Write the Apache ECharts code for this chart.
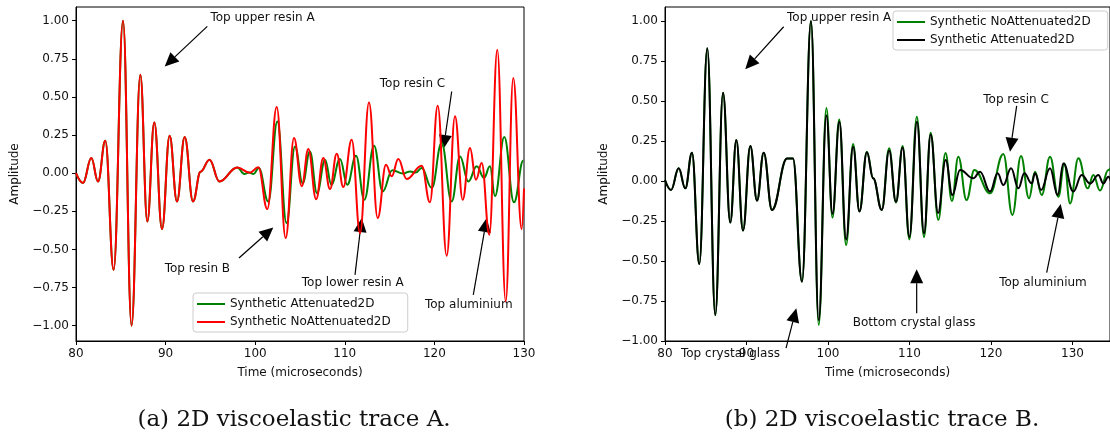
<!DOCTYPE html>
<html>
<head>
<meta charset="utf-8">
<script src="https://cdn.jsdelivr.net/npm/echarts@6/dist/echarts.min.js"></script>
<style>
  html, body { margin: 0; padding: 0; background: #fff; }
  #wrap { position: relative; width: 1110px; height: 437px; }
  #chartA { position: absolute; left: 0; top: 0; width: 555px; height: 437px; }
  #chartB { position: absolute; left: 555px; top: 0; width: 555px; height: 437px; }
</style>
</head>
<body>
<div id="wrap"><div id="chartA"></div><div id="chartB"></div></div>
<script>
// tick labels
var xTicks = [80, 90, 100, 110, 120, 130];
var yTicks = [-1, -0.75, -0.5, -0.25, 0, 0.25, 0.5, 0.75, 1];

// (a) trace A, NoAttenuated (red)
var timeA_no = [80, 80.78, 81.71, 82.46, 83.27, 84.2, 85.25, 86.2, 87.18, 87.96, 88.74, 89.6, 90.45, 91.27, 92.13, 93.06, 93.9, 94.9, 96.0, 98.0, 99.4, 100.35, 101.35, 102.4, 103.4, 104.33, 105.2, 105.93, 106.8, 107.6, 108.35, 109.1, 109.83, 110.77, 111.7, 112.7, 113.67, 114.6, 115.23, 115.97, 116.9, 118.58, 119.5, 120.37, 121.37, 122.3, 123.16, 123.97, 124.64, 125.28, 126.13, 127.02, 127.96, 128.8, 129.74, 130.0];
var ampA_no = [0.0, -0.064, 0.10, -0.054, 0.213, -0.633, 1.0, -1.0, 0.646, -0.316, 0.333, -0.366, 0.246, -0.185, 0.237, -0.185, 0.01, 0.089, -0.054, 0.038, 0.003, 0.04, -0.235, 0.434, -0.425, 0.231, -0.085, 0.159, -0.17, 0.1, -0.104, 0.128, -0.09, 0.22, -0.392, 0.464, -0.294, 0.056, -0.02, 0.093, -0.038, 0.049, -0.191, 0.443, -0.541, 0.373, -0.174, 0.165, -0.043, 0.067, -0.403, 0.81, -0.84, 0.624, -0.366, -0.1];

// (a) trace A, Attenuated (green)
var timeA_att = [80, 80.78, 81.71, 82.46, 83.27, 84.2, 85.25, 86.2, 87.18, 87.96, 88.74, 89.6, 90.45, 91.27, 92.13, 93.06, 93.9, 94.9, 96.0, 98.0, 98.8, 99.3, 99.8, 100.4, 101.46, 102.47, 103.5, 104.44, 105.3, 106.1, 106.9, 107.8, 108.5, 109.46, 110.28, 111.25, 112.18, 113.26, 114.23, 115.3, 116.5, 117.3, 117.9, 118.58, 119.7, 120.8, 121.93, 122.86, 123.79, 124.72, 125.54, 126.2, 126.76, 127.8, 128.88, 129.93, 130.0];
var ampA_att = [0.0, -0.064, 0.10, -0.054, 0.213, -0.633, 1.0, -1.0, 0.646, -0.316, 0.333, -0.366, 0.246, -0.185, 0.237, -0.185, 0.01, 0.089, -0.054, 0.038, -0.005, 0.005, -0.005, 0.035, -0.185, 0.34, -0.327, 0.176, -0.065, 0.143, -0.13, 0.089, -0.075, 0.093, -0.075, 0.115, -0.174, 0.18, -0.119, 0.02, -0.002, 0.012, 0.005, 0.034, -0.097, 0.198, -0.185, 0.11, -0.054, 0.045, -0.03, 0.045, -0.15, 0.237, -0.19, 0.084, 0.083];

// (b) trace B, NoAttenuated (green)
var timeB_no = [80, 80.74, 81.68, 82.49, 83.31, 84.21, 85.19, 86.17, 87.12, 88.01, 88.75, 89.57, 90.47, 91.29, 92.11, 93.13, 94.97, 95.7, 96.81, 97.91, 98.86, 99.8, 100.55, 101.38, 102.22, 103.08, 103.86, 104.77, 105.54, 106.6, 107.5, 108.34, 109.16, 109.98, 110.9, 111.78, 112.6, 113.53, 114.42, 115.2, 115.99, 117.0, 117.96, 119.88, 121.51, 122.62, 123.68, 124.66, 125.4, 126.22, 127.24, 128.26, 129.0, 129.7, 130.72, 131.86, 132.56, 133.37, 134.4, 134.7];
var ampB_no = [0.006, -0.056, 0.079, -0.046, 0.177, -0.519, 0.829, -0.838, 0.552, -0.26, 0.256, -0.31, 0.219, -0.123, 0.177, -0.181, 0.14, 0.14, -0.629, 1.0, -0.9, 0.456, -0.228, 0.385, -0.4, 0.232, -0.19, 0.183, 0.017, -0.181, 0.204, -0.135, 0.219, -0.365, 0.402, -0.35, 0.302, -0.244, 0.175, -0.125, 0.152, -0.119, 0.069, -0.077, 0.169, -0.212, 0.156, -0.108, 0.058, -0.088, 0.152, -0.098, 0.11, -0.14, 0.142, -0.046, 0.038, -0.06, 0.069, 0.08];

// (b) trace B, Attenuated (black)
var timeB_att = [80, 80.74, 81.68, 82.49, 83.31, 84.21, 85.19, 86.17, 87.12, 88.01, 88.75, 89.57, 90.47, 91.29, 92.11, 93.13, 94.97, 95.7, 96.81, 97.91, 98.86, 99.8, 100.55, 101.4, 102.22, 103.08, 103.86, 104.77, 105.54, 106.6, 107.5, 108.34, 109.16, 109.98, 110.92, 111.78, 112.6, 113.5, 114.44, 115.26, 116.2, 117.83, 118.65, 119.88, 120.82, 121.51, 122.46, 123.36, 124.09, 124.99, 125.4, 126.14, 127.24, 128.18, 128.88, 130.1, 131.13, 132.15, 133.17, 133.78, 134.4, 134.7];
var ampB_att = [0.006, -0.056, 0.079, -0.046, 0.177, -0.519, 0.829, -0.838, 0.552, -0.26, 0.256, -0.31, 0.219, -0.123, 0.177, -0.181, 0.14, 0.14, -0.629, 1.0, -0.87, 0.41, -0.205, 0.37, -0.365, 0.214, -0.19, 0.18, 0.017, -0.181, 0.19, -0.13, 0.21, -0.35, 0.371, -0.327, 0.29, -0.2, 0.131, -0.088, 0.069, 0.017, 0.058, -0.066, 0.048, -0.025, 0.079, -0.046, 0.048, -0.015, 0.048, -0.056, 0.079, -0.088, 0.11, -0.066, 0.038, -0.015, 0.038, -0.015, 0.027, 0.0];

// annotations (data coords): label, text anchor (left, baseline), arrow tail, arrow tip
var notesA_label = ['Top upper resin A', 'Top resin B', 'Top lower resin A', 'Top resin C', 'Top aluminium'];
var notesA_text = [[95.0, 1.0], [89.9, -0.645], [105.2, -0.74], [113.9, 0.564], [118.95, -0.88]];
var notesA_tail = [[94.65, 0.963], [98.19, -0.556], [111.14, -0.666], [121.93, 0.536], [124.34, -0.797]];
var notesA_tip = [[89.9, 0.70], [102.02, -0.355], [111.89, -0.294], [121.0, 0.159], [125.84, -0.294]];

var notesB_label = ['Top upper resin A', 'Top crystal glass', 'Bottom crystal glass', 'Top resin C', 'Top aluminium'];
var notesB_text = [[94.97, 1.0], [81.96, -1.1], [103.03, -0.906], [119.05, 0.4875], [121.0, -0.653]];
var notesB_tail = [[94.56, 0.964], [94.85, -1.044], [110.88, -0.827], [123.15, 0.469], [126.83, -0.573]];
var notesB_tip = [[89.85, 0.698], [96.11, -0.796], [110.88, -0.552], [122.33, 0.183], [128.55, -0.144]];

var FONT = "'DejaVu Sans', sans-serif";

function pairs(t, a) {
    return t.map(function (x, i) { return [x, a[i]]; });
}

function fmtY(v) {
    return (v < 0 ? '\u2212' : '') + Math.abs(v).toFixed(2);
}

function lineSeries(name, color, t, a) {
    return {
        name: name,
        type: 'line',
        data: pairs(t, a),
        color: color,
        showSymbol: false,
        symbol: 'none',
        smooth: 0.42,
        smoothMonotone: 'x',
        lineStyle: { color: color, width: 2 },
        emphasis: { disabled: true },
        animation: false
    };
}

function makeOption(cfg) {
    return {
        animation: false,
        grid: {
            left: cfg.gridLeft, top: 7, width: cfg.gridWidth, height: 334,
            show: true, borderColor: '#000', borderWidth: 1
        },
        xAxis: {
            type: 'value', min: 80, max: cfg.xMax,
            axisLine: { show: true, onZero: false, lineStyle: { color: '#000', width: 1 } },
            axisTick: { show: true, length: 4, customValues: xTicks, lineStyle: { color: '#000' } },
            axisLabel: { customValues: xTicks, fontSize: 12, fontFamily: FONT, color: '#111', margin: 7 },
            splitLine: { show: false },
            name: 'Time (microseconds)', nameLocation: 'middle', nameGap: 26,
            nameTextStyle: { fontSize: 12, fontFamily: FONT, color: '#111' }
        },
        yAxis: {
            type: 'value', min: cfg.yMin, max: cfg.yMax,
            axisLine: { show: true, onZero: false, lineStyle: { color: '#000', width: 1 } },
            axisTick: { show: true, length: 4, customValues: yTicks, lineStyle: { color: '#000' } },
            axisLabel: { customValues: yTicks, formatter: fmtY, fontSize: 12, fontFamily: FONT, color: '#111', margin: 7 },
            splitLine: { show: false },
            name: 'Amplitude', nameLocation: 'middle', nameGap: 54,
            nameTextStyle: { fontSize: 12, fontFamily: FONT, color: '#111' }
        },
        legend: {
            orient: 'vertical', left: cfg.legendLeft, top: cfg.legendTop,
            data: cfg.legendNames,
            icon: 'rect', itemWidth: 28, itemHeight: 2, itemGap: 6, itemTextGap: 7,
            padding: [5, 17, 4, 4],
            backgroundColor: 'rgba(255,255,255,0.8)', borderColor: '#ccc', borderWidth: 1, borderRadius: 3,
            textStyle: { fontSize: 12, fontFamily: FONT, color: '#111' },
            selectedMode: false, z: 6
        },
        series: cfg.series
    };
}

function arrow(a, b) {
    var dx = b[0] - a[0], dy = b[1] - a[1];
    var len = Math.sqrt(dx * dx + dy * dy);
    var ux = dx / len, uy = dy / len;
    var headLen = 14, halfW = 6.5;
    var bx = b[0] - ux * headLen, by = b[1] - uy * headLen;
    return [
        { type: 'line', z: 3, shape: { x1: a[0], y1: a[1], x2: bx, y2: by }, style: { stroke: '#000', lineWidth: 1.2 } },
        { type: 'polygon', z: 3, shape: { points: [[b[0], b[1]], [bx - uy * halfW, by + ux * halfW], [bx + uy * halfW, by - ux * halfW]] }, style: { fill: '#000' } }
    ];
}

function addNotes(chart, labels, text, tail, tip, caption, captionX) {
    var els = [];
    for (var i = 0; i < labels.length; i++) {
        var p = chart.convertToPixel({ gridIndex: 0 }, text[i]);
        els.push({
            type: 'text', z: 3,
            style: {
                text: labels[i], x: p[0], y: p[1] + 3, fill: '#111',
                fontSize: 12, fontFamily: FONT,
                align: 'left', verticalAlign: 'bottom', textAlign: 'left', textVerticalAlign: 'bottom'
            }
        });
        var a = chart.convertToPixel({ gridIndex: 0 }, tail[i]);
        var b = chart.convertToPixel({ gridIndex: 0 }, tip[i]);
        els = els.concat(arrow(a, b));
    }
    els.push({
        type: 'text', z: 3,
        style: {
            text: caption, x: captionX, y: 420, fill: '#111',
            fontSize: 23, fontFamily: "'DejaVu Serif', serif",
            align: 'center', verticalAlign: 'middle', textAlign: 'center', textVerticalAlign: 'middle'
        }
    });
    chart.setOption({ graphic: els });
}

var chartA = echarts.init(document.getElementById('chartA'));
chartA.setOption(makeOption({
    gridLeft: 76, gridWidth: 448, xMax: 130, yMin: -1.1, yMax: 1.09,
    legendLeft: 193, legendTop: 293,
    legendNames: ['Synthetic Attenuated2D', 'Synthetic NoAttenuated2D'],
    series: [
        lineSeries('Synthetic Attenuated2D', '#008000', timeA_att, ampA_att),
        lineSeries('Synthetic NoAttenuated2D', '#ff0000', timeA_no, ampA_no)
    ]
}));
addNotes(chartA, notesA_label, notesA_text, notesA_tail, notesA_tip, '(a) 2D viscoelastic trace A.', 294);

var chartB = echarts.init(document.getElementById('chartB'));
chartB.setOption(makeOption({
    gridLeft: 110, gridWidth: 445, xMax: 134.6, yMin: -1.0, yMax: 1.0875,
    legendLeft: 338, legendTop: 11,
    legendNames: ['Synthetic NoAttenuated2D', 'Synthetic Attenuated2D'],
    series: [
        lineSeries('Synthetic NoAttenuated2D', '#008000', timeB_no, ampB_no),
        lineSeries('Synthetic Attenuated2D', '#000000', timeB_att, ampB_att)
    ]
}));
addNotes(chartB, notesB_label, notesB_text, notesB_tail, notesB_tip, '(b) 2D viscoelastic trace B.', 327);
</script>
</body>
</html>
